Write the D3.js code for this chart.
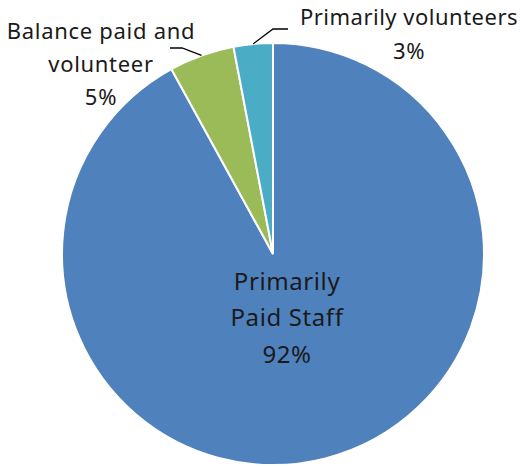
<!DOCTYPE html>
<html>
<head>
<meta charset="utf-8">
<script src="https://cdn.jsdelivr.net/npm/d3@7"></script>
<style>
  html, body { margin: 0; padding: 0; background: #fff; }
  svg { display: block; }
  text { font-family: "Noto Sans", Lato, sans-serif; fill: #1a1a1a; }
</style>
</head>
<body>
<svg id="chart" width="520" height="467"></svg>
<script>
// Chart data
const categories = ['Primarily Paid Staff', 'Balance paid and volunteer', 'Primarily volunteers'];
const labelLines = [['Primarily', 'Paid Staff', '92%'], ['Balance paid and', 'volunteer', '5%'], ['Primarily volunteers', '3%']];
const values = [92, 5, 3];
const colors = ['#4f81bd', '#9bbb59', '#4bacc6'];

const width = 520, height = 467;
const cx = 273, cy = 254, radius = 211;

const svg = d3.select('#chart');
const g = svg.append('g').attr('transform', `translate(${cx},${cy})`);

const pie = d3.pie().sort(null).value(d => d.value);
const arc = d3.arc().innerRadius(0).outerRadius(radius);
const edgeArc = d3.arc().innerRadius(radius).outerRadius(radius);

const data = categories.map((c, i) => ({ name: c, value: values[i], color: colors[i], lines: labelLines[i] }));
const arcs = pie(data);

g.selectAll('path.slice')
  .data(arcs)
  .enter().append('path')
  .attr('class', 'slice')
  .attr('d', arc)
  .attr('fill', d => d.data.color)
  .attr('stroke', '#fff')
  .attr('stroke-width', 2);

// Label layout (relative to pie centre)
// inside label for the big slice, callouts for the small ones
const layout = [
  { x: 14, y: 64, size: 24, ls: 0.6, lh: 36.5, inside: true },
  { x: -172, y: -190, size: 22, ls: 0.7, lh: 33, elbow: [-91, -206], end: [-103, -206] },
  { x: 136, y: -220, size: 22, ls: 0.5, lh: 34, elbow: [0, -225], end: [15, -225] }
];

arcs.forEach((a, i) => {
  const l = layout[i];
  if (!l.inside) {
    const p = edgeArc.centroid(a);
    g.append('polyline')
      .attr('points', [p, l.elbow, l.end].map(q => q.join(',')).join(' '))
      .attr('fill', 'none')
      .attr('stroke', '#000')
      .attr('stroke-width', 1.3);
  }
  const t = g.append('text')
    .attr('text-anchor', 'middle')
    .style('font-size', l.size + 'px')
    .style('letter-spacing', l.ls + 'px');
  const lines = a.data.lines;
  const first = l.y - (lines.length - 1) * l.lh / 2;
  lines.forEach((s, k) => {
    t.append('tspan')
      .attr('x', l.x)
      .attr('y', first + k * l.lh)
      .attr('dy', '0.35em')
      .text(s);
  });
});
</script>
</body>
</html>
